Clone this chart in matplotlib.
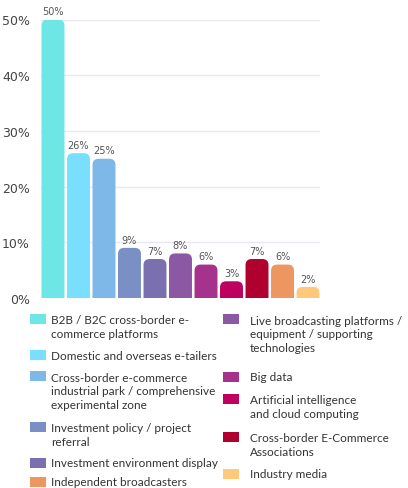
import matplotlib
matplotlib.use("Agg")
import matplotlib.pyplot as plt
from matplotlib.patches import FancyBboxPatch, Rectangle

# ---- data ----
categories = [
    "B2B / B2C cross-border e-\ncommerce platforms",
    "Domestic and overseas e-tailers",
    "Cross-border e-commerce\nindustrial park / comprehensive\nexperimental zone",
    "Investment policy / project\nreferral",
    "Investment environment display",
    "Live broadcasting platforms /\nequipment / supporting\ntechnologies",
    "Big data",
    "Artificial intelligence\nand cloud computing",
    "Cross-border E-Commerce\nAssociations",
    "Independent broadcasters",
    "Industry media",
]
values = [50, 26, 25, 9, 7, 8, 6, 3, 7, 6, 2]
colors = ["#6EE6E6", "#7ADFFF", "#7DB8E8", "#7A90C4", "#7A70B0", "#8C58A4",
          "#A5328C", "#BE0060", "#B00030", "#EE9660", "#FFC87A"]
yticks = [0, 10, 20, 30, 40, 50]
ytick_labels = ["0%", "10%", "20%", "30%", "40%", "50%"]

# legend layout (column membership)
legend_left = [0, 1, 2, 3, 4, 9]
legend_right = [5, 6, 7, 8, 10]

W, H = 408, 489
fig = plt.figure(figsize=(W / 100, H / 100), dpi=100)
ax_l, ax_r, ax_t, ax_b = 41, 320, 20.5, 299
ax = fig.add_axes([ax_l / W, 1 - ax_b / H, (ax_r - ax_l) / W, (ax_b - ax_t) / H])
xlim = (-0.47, 10.47)
ylim = (0, 50)
ax.set_xlim(*xlim)
ax.set_ylim(*ylim)

px_per_x = (ax_r - ax_l) / (xlim[1] - xlim[0])
px_per_y = (ax_b - ax_t) / (ylim[1] - ylim[0])
aspect = px_per_x / px_per_y  # y-units per x-unit for same pixel length

bw = 0.9
r = 0.24
for i, (v, c) in enumerate(zip(values, colors)):
    ext = r * aspect
    p = FancyBboxPatch((i - bw / 2, -ext), bw, v + ext,
                       boxstyle=f"round,pad=0,rounding_size={r}",
                       mutation_aspect=aspect, facecolor=c, edgecolor="none",
                       zorder=3, clip_on=True)
    ax.add_patch(p)
    ax.text(i, v + 0.6, f"{v}%", ha="center", va="bottom", fontsize=7,
            color="#555555", family="DejaVu Sans", zorder=4)

ax.set_yticks(yticks)
ax.set_yticklabels(ytick_labels)
ax.set_xticks([])
ax.tick_params(axis="y", length=0, pad=8, labelsize=9, labelcolor="#444444")
for s in ax.spines.values():
    s.set_visible(False)
ax.grid(axis="y", color="#E8E8EE", linewidth=1, zorder=0)
ax.set_axisbelow(True)

# legend
left_y = [320, 356, 377, 428, 464, 483]
right_y = [320, 378, 400, 438, 475]
lfont = dict(family="Lato", fontsize=8.5, color="#333333")


def add_item(idx, xp, xt, y0):
    fig.patches.append(Rectangle((xp / W, 1 - (y0 + 5) / H), 16 / W, 10 / H,
                                 transform=fig.transFigure, facecolor=colors[idx],
                                 edgecolor="none"))
    nlines = categories[idx].count("\n") + 1
    yc = y0 + (nlines - 1) * 15 / 2
    fig.text(xt / W, 1 - yc / H, categories[idx], ha="left", va="center",
             linespacing=1.3, **lfont)


for idx, y0 in zip(legend_left, left_y):
    add_item(idx, 30, 51, y0)
for idx, y0 in zip(legend_right, right_y):
    add_item(idx, 223, 250, y0)

fig.savefig("out.png", dpi=100)
